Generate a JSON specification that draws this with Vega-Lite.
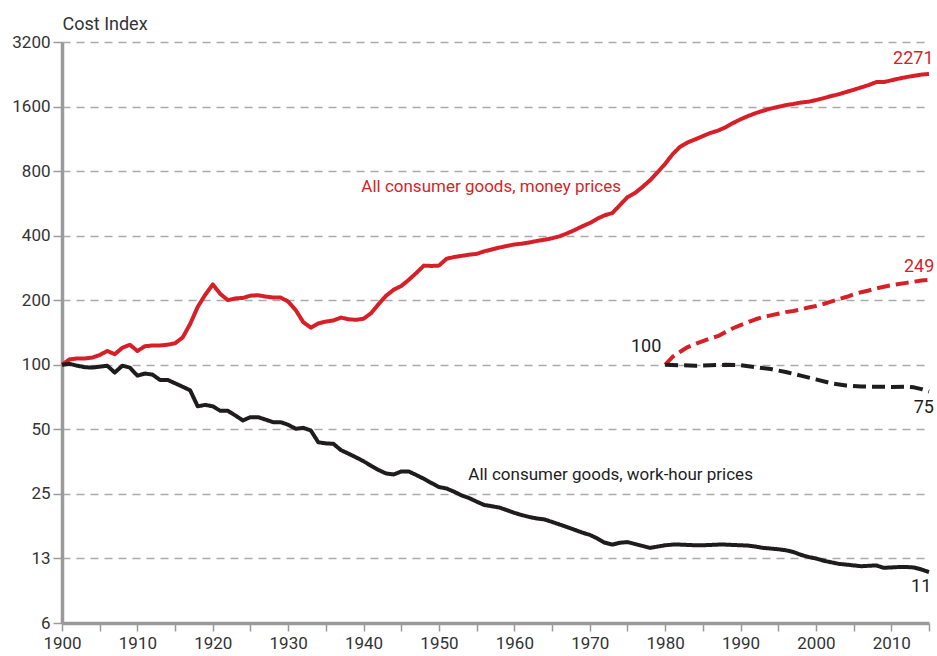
{
  "$schema": "https://vega.github.io/schema/vega-lite/v6.json",
  "width": 867,
  "height": 581,
  "autosize": "none",
  "padding": {"left": 62, "top": 42, "right": 8, "bottom": 33},
  "background": "white",
  "config": {
    "font": "Roboto",
    "view": {"stroke": null}
  },
  "datasets": {
    "lines": [
      {"series":"money","year":1900,"value":100},{"series":"money","year":1901,"value":106},{"series":"money","year":1902,"value":107},{"series":"money","year":1903,"value":107},{"series":"money","year":1904,"value":108},{"series":"money","year":1905,"value":111},{"series":"money","year":1906,"value":116},{"series":"money","year":1907,"value":112},{"series":"money","year":1908,"value":120},{"series":"money","year":1909,"value":124},{"series":"money","year":1910,"value":116},{"series":"money","year":1911,"value":122},{"series":"money","year":1912,"value":123},{"series":"money","year":1913,"value":123},{"series":"money","year":1914,"value":124},{"series":"money","year":1915,"value":126},{"series":"money","year":1916,"value":134},{"series":"money","year":1917,"value":155},{"series":"money","year":1918,"value":186},{"series":"money","year":1919,"value":212},{"series":"money","year":1920,"value":237},{"series":"money","year":1921,"value":214},{"series":"money","year":1922,"value":200},{"series":"money","year":1923,"value":204},{"series":"money","year":1924,"value":205},{"series":"money","year":1925,"value":210},{"series":"money","year":1926,"value":211},{"series":"money","year":1927,"value":208},{"series":"money","year":1928,"value":206},{"series":"money","year":1929,"value":206},{"series":"money","year":1930,"value":197},{"series":"money","year":1931,"value":180},{"series":"money","year":1932,"value":158},{"series":"money","year":1933,"value":149},{"series":"money","year":1934,"value":156},{"series":"money","year":1935,"value":159},{"series":"money","year":1936,"value":161},{"series":"money","year":1937,"value":166},{"series":"money","year":1938,"value":163},{"series":"money","year":1939,"value":162},{"series":"money","year":1940,"value":164},{"series":"money","year":1941,"value":174},{"series":"money","year":1942,"value":192},{"series":"money","year":1943,"value":210},{"series":"money","year":1944,"value":224},{"series":"money","year":1945,"value":233},{"series":"money","year":1946,"value":249},{"series":"money","year":1947,"value":268},{"series":"money","year":1948,"value":290},{"series":"money","year":1949,"value":289},{"series":"money","year":1950,"value":290},{"series":"money","year":1951,"value":312},{"series":"money","year":1952,"value":318},{"series":"money","year":1953,"value":322},{"series":"money","year":1954,"value":326},{"series":"money","year":1955,"value":329},{"series":"money","year":1956,"value":338},{"series":"money","year":1957,"value":345},{"series":"money","year":1958,"value":352},{"series":"money","year":1959,"value":358},{"series":"money","year":1960,"value":364},{"series":"money","year":1961,"value":367},{"series":"money","year":1962,"value":372},{"series":"money","year":1963,"value":378},{"series":"money","year":1964,"value":383},{"series":"money","year":1965,"value":389},{"series":"money","year":1966,"value":397},{"series":"money","year":1967,"value":410},{"series":"money","year":1968,"value":425},{"series":"money","year":1969,"value":442},{"series":"money","year":1970,"value":458},{"series":"money","year":1971,"value":480},{"series":"money","year":1972,"value":498},{"series":"money","year":1973,"value":510},{"series":"money","year":1974,"value":555},{"series":"money","year":1975,"value":605},{"series":"money","year":1976,"value":632},{"series":"money","year":1977,"value":675},{"series":"money","year":1978,"value":725},{"series":"money","year":1979,"value":790},{"series":"money","year":1980,"value":865},{"series":"money","year":1981,"value":960},{"series":"money","year":1982,"value":1040},{"series":"money","year":1983,"value":1090},{"series":"money","year":1984,"value":1125},{"series":"money","year":1985,"value":1165},{"series":"money","year":1986,"value":1205},{"series":"money","year":1987,"value":1235},{"series":"money","year":1988,"value":1280},{"series":"money","year":1989,"value":1340},{"series":"money","year":1990,"value":1395},{"series":"money","year":1991,"value":1445},{"series":"money","year":1992,"value":1490},{"series":"money","year":1993,"value":1530},{"series":"money","year":1994,"value":1565},{"series":"money","year":1995,"value":1595},{"series":"money","year":1996,"value":1625},{"series":"money","year":1997,"value":1645},{"series":"money","year":1998,"value":1670},{"series":"money","year":1999,"value":1685},{"series":"money","year":2000,"value":1715},{"series":"money","year":2001,"value":1750},{"series":"money","year":2002,"value":1790},{"series":"money","year":2003,"value":1825},{"series":"money","year":2004,"value":1870},{"series":"money","year":2005,"value":1915},{"series":"money","year":2006,"value":1965},{"series":"money","year":2007,"value":2015},{"series":"money","year":2008,"value":2080},{"series":"money","year":2009,"value":2080},{"series":"money","year":2010,"value":2120},{"series":"money","year":2011,"value":2160},{"series":"money","year":2012,"value":2195},{"series":"money","year":2013,"value":2225},{"series":"money","year":2014,"value":2255},{"series":"money","year":2015,"value":2271},

      {"series":"workhour","year":1900,"value":100},{"series":"workhour","year":1901,"value":101},{"series":"workhour","year":1902,"value":99},{"series":"workhour","year":1903,"value":97.5},{"series":"workhour","year":1904,"value":97},{"series":"workhour","year":1905,"value":98},{"series":"workhour","year":1906,"value":99},{"series":"workhour","year":1907,"value":92},{"series":"workhour","year":1908,"value":99},{"series":"workhour","year":1909,"value":97},{"series":"workhour","year":1910,"value":89},{"series":"workhour","year":1911,"value":91},{"series":"workhour","year":1912,"value":90},{"series":"workhour","year":1913,"value":85},{"series":"workhour","year":1914,"value":85},{"series":"workhour","year":1915,"value":82},{"series":"workhour","year":1916,"value":79},{"series":"workhour","year":1917,"value":76},{"series":"workhour","year":1918,"value":64},{"series":"workhour","year":1919,"value":65},{"series":"workhour","year":1920,"value":64},{"series":"workhour","year":1921,"value":61},{"series":"workhour","year":1922,"value":61},{"series":"workhour","year":1923,"value":58},{"series":"workhour","year":1924,"value":55},{"series":"workhour","year":1925,"value":57},{"series":"workhour","year":1926,"value":57},{"series":"workhour","year":1927,"value":55.5},{"series":"workhour","year":1928,"value":54},{"series":"workhour","year":1929,"value":54},{"series":"workhour","year":1930,"value":52.5},{"series":"workhour","year":1931,"value":50.3},{"series":"workhour","year":1932,"value":50.8},{"series":"workhour","year":1933,"value":49.4},{"series":"workhour","year":1934,"value":43.5},{"series":"workhour","year":1935,"value":43},{"series":"workhour","year":1936,"value":42.8},{"series":"workhour","year":1937,"value":40},{"series":"workhour","year":1938,"value":38.5},{"series":"workhour","year":1939,"value":37},{"series":"workhour","year":1940,"value":35.5},{"series":"workhour","year":1941,"value":33.8},{"series":"workhour","year":1942,"value":32.3},{"series":"workhour","year":1943,"value":31.1},{"series":"workhour","year":1944,"value":30.8},{"series":"workhour","year":1945,"value":31.8},{"series":"workhour","year":1946,"value":31.8},{"series":"workhour","year":1947,"value":30.6},{"series":"workhour","year":1948,"value":29.4},{"series":"workhour","year":1949,"value":28.1},{"series":"workhour","year":1950,"value":26.9},{"series":"workhour","year":1951,"value":26.5},{"series":"workhour","year":1952,"value":25.6},{"series":"workhour","year":1953,"value":24.6},{"series":"workhour","year":1954,"value":23.9},{"series":"workhour","year":1955,"value":23},{"series":"workhour","year":1956,"value":22.2},{"series":"workhour","year":1957,"value":21.9},{"series":"workhour","year":1958,"value":21.6},{"series":"workhour","year":1959,"value":21},{"series":"workhour","year":1960,"value":20.4},{"series":"workhour","year":1961,"value":19.9},{"series":"workhour","year":1962,"value":19.5},{"series":"workhour","year":1963,"value":19.2},{"series":"workhour","year":1964,"value":19},{"series":"workhour","year":1965,"value":18.5},{"series":"workhour","year":1966,"value":18},{"series":"workhour","year":1967,"value":17.5},{"series":"workhour","year":1968,"value":17},{"series":"workhour","year":1969,"value":16.5},{"series":"workhour","year":1970,"value":16.1},{"series":"workhour","year":1971,"value":15.5},{"series":"workhour","year":1972,"value":14.8},{"series":"workhour","year":1973,"value":14.5},{"series":"workhour","year":1974,"value":14.8},{"series":"workhour","year":1975,"value":14.9},{"series":"workhour","year":1976,"value":14.6},{"series":"workhour","year":1977,"value":14.3},{"series":"workhour","year":1978,"value":14.0},{"series":"workhour","year":1979,"value":14.2},{"series":"workhour","year":1980,"value":14.4},{"series":"workhour","year":1981,"value":14.5},{"series":"workhour","year":1982,"value":14.5},{"series":"workhour","year":1983,"value":14.45},{"series":"workhour","year":1984,"value":14.4},{"series":"workhour","year":1985,"value":14.4},{"series":"workhour","year":1986,"value":14.45},{"series":"workhour","year":1987,"value":14.5},{"series":"workhour","year":1988,"value":14.5},{"series":"workhour","year":1989,"value":14.45},{"series":"workhour","year":1990,"value":14.4},{"series":"workhour","year":1991,"value":14.35},{"series":"workhour","year":1992,"value":14.2},{"series":"workhour","year":1993,"value":14.0},{"series":"workhour","year":1994,"value":13.9},{"series":"workhour","year":1995,"value":13.8},{"series":"workhour","year":1996,"value":13.65},{"series":"workhour","year":1997,"value":13.4},{"series":"workhour","year":1998,"value":13.0},{"series":"workhour","year":1999,"value":12.7},{"series":"workhour","year":2000,"value":12.5},{"series":"workhour","year":2001,"value":12.2},{"series":"workhour","year":2002,"value":12.0},{"series":"workhour","year":2003,"value":11.8},{"series":"workhour","year":2004,"value":11.7},{"series":"workhour","year":2005,"value":11.6},{"series":"workhour","year":2006,"value":11.5},{"series":"workhour","year":2007,"value":11.55},{"series":"workhour","year":2008,"value":11.6},{"series":"workhour","year":2009,"value":11.3},{"series":"workhour","year":2010,"value":11.35},{"series":"workhour","year":2011,"value":11.4},{"series":"workhour","year":2012,"value":11.4},{"series":"workhour","year":2013,"value":11.35},{"series":"workhour","year":2014,"value":11.1},{"series":"workhour","year":2015,"value":10.8},

      {"series":"money_1980","year":1980,"value":100},{"series":"money_1980","year":1981,"value":109},{"series":"money_1980","year":1982,"value":115},{"series":"money_1980","year":1983,"value":121},{"series":"money_1980","year":1984,"value":125},{"series":"money_1980","year":1985,"value":129},{"series":"money_1980","year":1986,"value":133},{"series":"money_1980","year":1987,"value":136},{"series":"money_1980","year":1988,"value":142},{"series":"money_1980","year":1989,"value":148},{"series":"money_1980","year":1990,"value":153},{"series":"money_1980","year":1991,"value":158},{"series":"money_1980","year":1992,"value":163},{"series":"money_1980","year":1993,"value":167},{"series":"money_1980","year":1994,"value":170},{"series":"money_1980","year":1995,"value":173},{"series":"money_1980","year":1996,"value":176},{"series":"money_1980","year":1997,"value":178},{"series":"money_1980","year":1998,"value":181},{"series":"money_1980","year":1999,"value":185},{"series":"money_1980","year":2000,"value":188},{"series":"money_1980","year":2001,"value":192},{"series":"money_1980","year":2002,"value":197},{"series":"money_1980","year":2003,"value":202},{"series":"money_1980","year":2004,"value":207},{"series":"money_1980","year":2005,"value":213},{"series":"money_1980","year":2006,"value":218},{"series":"money_1980","year":2007,"value":222},{"series":"money_1980","year":2008,"value":227},{"series":"money_1980","year":2009,"value":231},{"series":"money_1980","year":2010,"value":235},{"series":"money_1980","year":2011,"value":238},{"series":"money_1980","year":2012,"value":241},{"series":"money_1980","year":2013,"value":244},{"series":"money_1980","year":2014,"value":247},{"series":"money_1980","year":2015,"value":249},

      {"series":"workhour_1980","year":1980,"value":100},{"series":"workhour_1980","year":1982,"value":99.5},{"series":"workhour_1980","year":1984,"value":99},{"series":"workhour_1980","year":1986,"value":99.5},{"series":"workhour_1980","year":1988,"value":100},{"series":"workhour_1980","year":1990,"value":99.5},{"series":"workhour_1980","year":1992,"value":97.5},{"series":"workhour_1980","year":1994,"value":95.5},{"series":"workhour_1980","year":1996,"value":92.5},{"series":"workhour_1980","year":1998,"value":89},{"series":"workhour_1980","year":2000,"value":85.5},{"series":"workhour_1980","year":2002,"value":82},{"series":"workhour_1980","year":2004,"value":80},{"series":"workhour_1980","year":2006,"value":79.3},{"series":"workhour_1980","year":2008,"value":79},{"series":"workhour_1980","year":2010,"value":78.8},{"series":"workhour_1980","year":2012,"value":79},{"series":"workhour_1980","year":2013,"value":78.5},{"series":"workhour_1980","year":2014,"value":77},{"series":"workhour_1980","year":2015,"value":75}
    ],
    "leftLabels": [
      {"label":"All consumer goods, money prices","year":1939.7,"value":677,"series":"money"},
      {"label":"All consumer goods, work-hour prices","year":1953.9,"value":30.5,"series":"workhour"}
    ],
    "rightLabels": [
      {"label":"2271","year":2015.6,"value":2666,"series":"money"},
      {"label":"249","year":2015.7,"value":287,"series":"money_1980"},
      {"label":"100","year":1979.5,"value":120.8,"series":"workhour"},
      {"label":"75","year":2015.65,"value":62.6,"series":"workhour"},
      {"label":"11","year":2015.3,"value":9.2,"series":"workhour"}
    ]
  },
  "encoding": {
    "x": {
      "field": "year",
      "type": "quantitative",
      "scale": {"domain": [1900, 2015], "nice": false, "zero": false},
      "axis": {
        "title": null,
        "values": [1900,1905,1910,1915,1920,1925,1930,1935,1940,1945,1950,1955,1960,1965,1970,1975,1980,1985,1990,1995,2000,2005,2010,2015],
        "format": "d",
        "labelExpr": "datum.value % 10 === 0 ? datum.label : ''",
        "labelOverlap": false,
        "labelFlush": false,
        "grid": false,
        "domainColor": "#9a9a9a",
        "domainWidth": 3.5,
        "tickColor": "#9a9a9a",
        "tickWidth": 1.5,
        "tickSize": 8,
        "labelFontSize": 17,
        "labelColor": "#333333",
        "labelPadding": 4
      }
    },
    "y": {
      "field": "value",
      "type": "quantitative",
      "scale": {"type": "log", "base": 2, "domain": [6.25, 3200], "nice": false},
      "axis": {
        "values": [6.25,12.5,25,50,100,200,400,800,1600,3200],
        "format": ".0f",
        "title": "Cost Index",
        "titleAngle": 0,
        "titleAlign": "left",
        "titleBaseline": "alphabetic",
        "titleX": 0,
        "titleY": -13,
        "titleFontSize": 18,
        "titleFontWeight": "normal",
        "titleColor": "#333333",
        "grid": true,
        "gridColor": "#aaaaaa",
        "gridDash": [8, 6],
        "gridWidth": 1.3,
        "domainColor": "#9a9a9a",
        "domainWidth": 3.5,
        "tickColor": "#9a9a9a",
        "tickWidth": 1.5,
        "tickSize": 9,
        "labelFontSize": 17,
        "labelColor": "#333333",
        "labelPadding": 3,
        "labelOverlap": false
      }
    }
  },
  "layer": [
    {
      "data": {"name": "lines"},
      "mark": {"type": "line", "strokeWidth": 4, "strokeCap": "butt", "strokeJoin": "round"},
      "encoding": {
        "color": {
          "field": "series",
          "type": "nominal",
          "scale": {"domain": ["money","workhour","money_1980","workhour_1980"], "range": ["#d71f28","#1e1c1d","#d71f28","#1e1c1d"]},
          "legend": null
        },
        "strokeDash": {
          "field": "series",
          "type": "nominal",
          "scale": {"domain": ["money","workhour","money_1980","workhour_1980"], "range": [[1,0],[1,0],[13,6],[13,6]]},
          "legend": null
        }
      }
    },
    {
      "data": {"name": "leftLabels"},
      "mark": {"type": "text", "align": "left", "baseline": "middle", "fontSize": 17},
      "encoding": {
        "text": {"field": "label"},
        "color": {"field": "series", "type": "nominal", "legend": null}
      }
    },
    {
      "data": {"name": "rightLabels"},
      "mark": {"type": "text", "align": "right", "baseline": "middle", "fontSize": 18},
      "encoding": {
        "text": {"field": "label"},
        "color": {"field": "series", "type": "nominal", "legend": null}
      }
    }
  ]
}
